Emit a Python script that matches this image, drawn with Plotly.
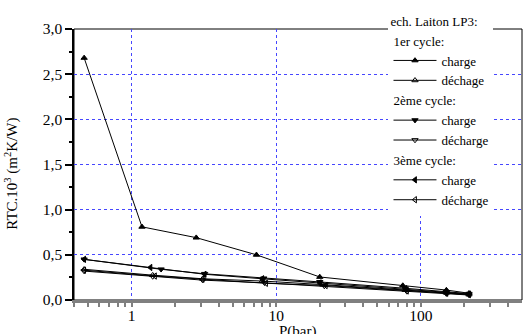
import plotly.graph_objects as go

# ---- data ----
p_1c = [0.47, 1.18, 2.8, 7.3, 20, 75, 150, 215]
v_1c = [2.68, 0.81, 0.69, 0.50, 0.255, 0.16, 0.11, 0.075]

p_1d = [215, 150, 78, 21, 8.0, 3.1, 1.4, 0.47]
v_1d = [0.06, 0.08, 0.11, 0.17, 0.21, 0.235, 0.275, 0.34]

p_2c = [0.47, 1.6, 3.2, 8.2, 20, 78, 150, 215]
v_2c = [0.45, 0.34, 0.29, 0.24, 0.20, 0.13, 0.09, 0.07]

p_2d = [215, 150, 80, 21.5, 8.3, 3.1, 1.4, 0.47]
v_2d = [0.055, 0.07, 0.095, 0.155, 0.19, 0.22, 0.26, 0.32]

p_3c = [0.47, 1.35, 3.2, 8.0, 20, 78, 150, 215]
v_3c = [0.45, 0.36, 0.285, 0.235, 0.19, 0.125, 0.085, 0.065]

p_3d = [215, 150, 80, 22, 8.5, 3.1, 1.45, 0.47]
v_3d = [0.06, 0.075, 0.10, 0.16, 0.185, 0.23, 0.265, 0.33]

series = [
    ("charge", p_1c, v_1c, "triangle-up", "1er cycle:"),
    ("déchage", p_1d, v_1d, "triangle-up-open", "1er cycle:"),
    ("charge", p_2c, v_2c, "triangle-down", "2ème cycle:"),
    ("décharge", p_2d, v_2d, "triangle-down-open", "2ème cycle:"),
    ("charge", p_3c, v_3c, "triangle-left", "3ème cycle:"),
    ("décharge", p_3d, v_3d, "triangle-left-open", "3ème cycle:"),
]

yticks = [0, 0.5, 1.0, 1.5, 2.0, 2.5, 3.0]
xticks = [1, 10, 100]
xminor = [0.4, 0.5, 0.6, 0.7, 0.8, 0.9,
          2, 3, 4, 5, 6, 7, 8, 9,
          20, 30, 40, 50, 60, 70, 80, 90,
          200, 300, 400]

x_title = "P(bar)"
y_title = "RTC.10<sup>3</sup> (m<sup>2</sup>K/W)"
legend_title = "ech. Laiton LP3:"

FONT = "Liberation Serif, Times New Roman, serif"
GRID = "rgb(70,70,255)"
LFS = 13

fig = go.Figure()
for name, px, vy, sym, grp in series:
    fig.add_trace(go.Scatter(
        x=px, y=vy, mode="lines+markers", name=name,
        legendgroup=grp,
        legendgrouptitle=dict(text=grp, font=dict(family=FONT, size=LFS, color="black")),
        line=dict(color="black", width=1),
        marker=dict(symbol=sym, size=5.5, color="black", line=dict(color="black", width=1)),
    ))

fig.update_layout(
    width=523, height=334,
    margin=dict(l=74, r=1, t=29, b=34),
    paper_bgcolor="white", plot_bgcolor="white",
    separators=", ",
    font=dict(family=FONT, size=15, color="black"),
    showlegend=True,
    legend=dict(
        title=dict(text=legend_title, font=dict(family=FONT, size=LFS)),
        x=0.702, xanchor="left", y=1.075, yanchor="top",
        bgcolor="white", borderwidth=0,
        tracegroupgap=0, itemwidth=43, maxheight=330,
        font=dict(family=FONT, size=LFS),
    ),
    shapes=[dict(type="rect", xref="paper", yref="paper", x0=0, x1=1, y0=0, y1=1,
                 line=dict(color="black", width=1), layer="below")],
    annotations=[
        dict(text=x_title, xref="paper", yref="paper", x=0.5, y=-0.078,
             xanchor="center", yanchor="top", showarrow=False,
             font=dict(family=FONT, size=15)),
        dict(text=y_title, xref="paper", yref="paper", x=-0.14, y=0.467,
             xanchor="center", yanchor="middle", textangle=-90, showarrow=False,
             font=dict(family=FONT, size=15)),
    ],
)

fig.update_xaxes(
    type="log", range=[-0.398, 2.699], automargin=False,
    tickvals=xticks, ticktext=["1", "10", "100"],
    ticks="outside", ticklen=4, tickcolor="gray", tickwidth=1.5,
    minor=dict(tickvals=xminor, ticks="outside", ticklen=4, tickcolor="gray", tickwidth=1.5, showgrid=False),
    showline=True, linecolor="gray", linewidth=2.5,
    showgrid=True, gridcolor=GRID, griddash="dot", gridwidth=1,
    zeroline=False, ticklabelstandoff=-4,
    tickfont=dict(family=FONT, size=15.5),
)
fig.update_yaxes(
    range=[0, 3.0], automargin=False,
    tickvals=yticks, tickformat=".1f",
    ticks="outside", ticklen=7, tickcolor="black", tickwidth=1.5,
    minor=dict(dtick=0.25, tick0=0, ticks="outside", ticklen=3, tickcolor="black", tickwidth=1.5, showgrid=False),
    showline=True, linecolor="black", linewidth=1.5,
    showgrid=True, gridcolor=GRID, griddash="dot", gridwidth=1,
    zeroline=False,
    tickfont=dict(family=FONT, size=15.5),
)

fig.write_html("out.html")
